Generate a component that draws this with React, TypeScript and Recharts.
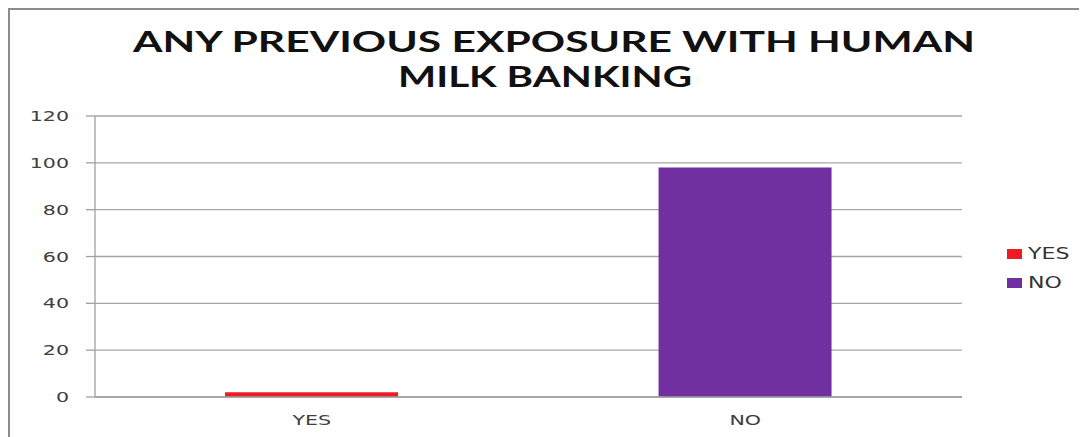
import { Bar, BarChart, CartesianGrid, Legend, XAxis, YAxis } from "recharts";

// categories and values
const categories = ["YES", "NO"];
const yesValues = [2, null];
const noValues = [null, 98];
const yTicks = [0, 20, 40, 60, 80, 100, 120];
const titleLines = ["ANY PREVIOUS EXPOSURE WITH HUMAN", "MILK BANKING"];

const seriesColors: Record<string, string> = { YES: "#ED1C24", NO: "#7030A0" };

const data = categories.map((c, i) => ({ name: c, YES: yesValues[i], NO: noValues[i] }));

// the source picture is stretched sideways, so text gets a horizontal scale
const STRETCH = 1.47;
const tickFont = "'DejaVu Sans', Verdana, sans-serif";

function YTick({ x, y, payload }: any) {
    return (
        <text transform={`translate(${x},${y}) scale(${STRETCH},1)`} textAnchor="end" dy={5} fontSize={14} fontFamily={tickFont} fill="#404040">
            {payload.value}
        </text>
    );
}

function XTick({ x, y, payload }: any) {
    return (
        <text transform={`translate(${x},${y}) scale(${STRETCH},1)`} textAnchor="middle" dy={14} fontSize={14} fontFamily={tickFont} fill="#404040">
            {payload.value}
        </text>
    );
}

function LegendBox({ payload }: any) {
    const items = [...(payload || [])].sort((a: any, b: any) => categories.indexOf(a.value) - categories.indexOf(b.value));
    return (
        <div style={{ fontFamily: tickFont, fontSize: 15, color: "#333" }}>
            {items.map((p: any) => (
                <div key={p.value} style={{ display: "flex", alignItems: "center", height: 29 }}>
                    <span style={{ width: 15, height: 10, background: p.color, marginRight: 6 }} />
                    <span style={{ display: "inline-block", transform: `scaleX(${STRETCH})`, transformOrigin: "left center" }}>{p.value}</span>
                </div>
            ))}
        </div>
    );
}

export default function App() {
    return (
        <div style={{ position: "relative", width: 1079, height: 429, borderLeft: "2px solid #8c8c8c", borderTop: "2px solid #8c8c8c", background: "#fff" }}>
            <svg width={1077} height={100} style={{ position: "absolute", left: 0, top: 0 }}>
                <text x={123} y={42} textLength={842} lengthAdjust="spacingAndGlyphs" fontFamily="Lato, 'Open Sans', sans-serif" fontWeight="bold" fontSize={28} fill="#111">
                    {titleLines[0]}
                </text>
                <text x={388} y={77} textLength={294} lengthAdjust="spacingAndGlyphs" fontFamily="Lato, 'Open Sans', sans-serif" fontWeight="bold" fontSize={28} fill="#111">
                    {titleLines[1]}
                </text>
            </svg>
            <BarChart
                width={1077}
                height={427}
                data={data}
                margin={{ top: 106, right: 45, left: 0, bottom: 8 }}
                barCategoryGap="30%"
            >
                <CartesianGrid vertical={false} stroke="#a6a6a6" strokeWidth={1.3} />
                <XAxis
                    dataKey="name"
                    stroke="#a0a0a0"
                    strokeWidth={1.3}
                    tickLine={false}
                    tickMargin={8}
                    height={32}
                    tick={<XTick />}
                />
                <YAxis
                    domain={[0, 120]}
                    ticks={yTicks}
                    width={85}
                    stroke="#a0a0a0"
                    strokeWidth={1.3}
                    tickSize={9}
                    tickMargin={17}
                    tick={<YTick />}
                />
                <Legend
                    layout="horizontal"
                    verticalAlign="middle"
                    align="right"
                    content={<LegendBox />}
                    wrapperStyle={{ position: "absolute", left: 997, top: 229, width: 80 }}
                />
                <Bar dataKey="YES" stackId="a" fill={seriesColors.YES} isAnimationActive={false} />
                <Bar dataKey="NO" stackId="a" fill={seriesColors.NO} isAnimationActive={false} />
            </BarChart>
        </div>
    );
}
